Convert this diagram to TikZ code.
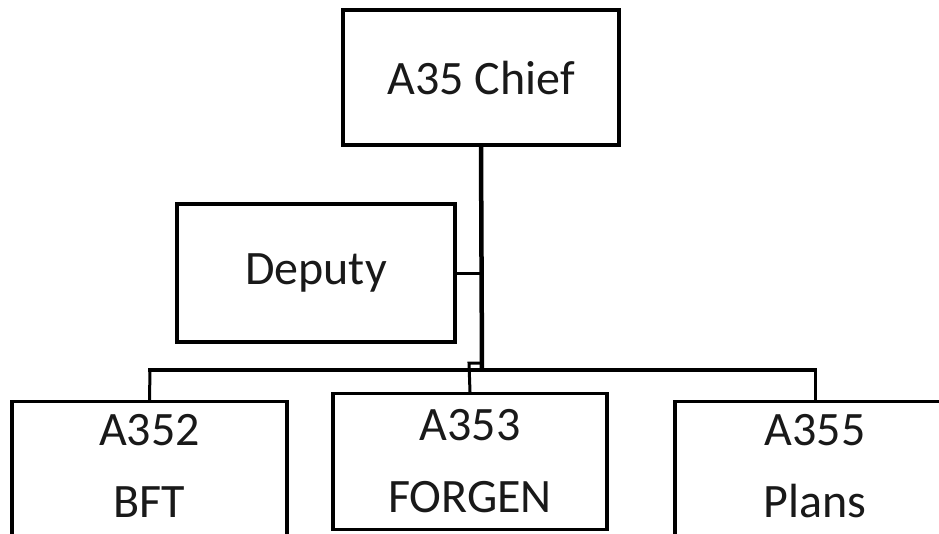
\documentclass[tikz,border=0pt]{standalone}
\usepackage{fontspec}
\setmainfont{Carlito}
\usetikzlibrary{positioning}

\begin{document}
\begin{tikzpicture}[x=1pt,y=-1pt,line cap=rect,line join=miter,
    unitbox/.style={draw,line width=3.2pt,fill=white,inner sep=0pt},
    boxtext/.style={align=center,font=\fontsize{48}{72}\selectfont,text=black!90}]
  \useasboundingbox (0,0) rectangle (939,533);
  \clip (0,0) rectangle (939,533);
  % top of the tree
  \node[unitbox,minimum width=276,minimum height=135,boxtext] (chief) at (481,77.5) {A35 Chief};
  \node[unitbox,minimum width=278,minimum height=138,boxtext] (deputy) at (316,273) {Deputy};
  % branch boxes, cut off at the lower edge
  \node[unitbox,minimum width=275,minimum height=180,anchor=north] (bft) at (149.5,400) {};
  \node[unitbox,minimum width=274,minimum height=136,anchor=north] (forgen) at (470,392) {};
  \node[unitbox,minimum width=280,minimum height=180,anchor=north] (plans) at (815,400) {};
  \node[boxtext] (bfttext) at (149.5,466) {A352\\BFT};
  \node[boxtext] (forgentext) at (470,461) {A353\\FORGEN};
  \node[boxtext] (planstext) at (815,466) {A355\\Plans};
  % connectors
  \coordinate (bus) at (482,370);
  \coordinate (busleft) at (150,370);
  \coordinate (busright) at (815,370);
  \coordinate (deptee) at (482,273);
  \coordinate (step) at (469,363);
  \draw[line width=4.5pt,line cap=butt] (chief.south) -- (bus);
  \draw[line width=3pt] (deputy.east) -- (deptee);
  \draw[line width=3.2pt] (busleft) -- (busright);
  \draw[line width=3pt] (busleft) -- (bft.north);
  \draw[line width=3pt] (busright) -- (plans.north);
  \draw[line width=3pt] (482,363) -- (step) -- (forgen.north);
\end{tikzpicture}
\end{document}
